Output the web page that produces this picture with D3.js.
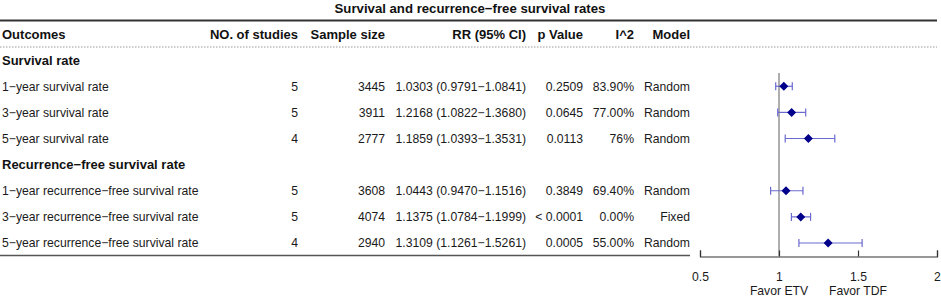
<!DOCTYPE html>
<html>
<head>
<meta charset="utf-8">
<script src="https://cdn.jsdelivr.net/npm/d3@7"></script>
<style>
    body { margin: 0; background: #fff; }
    svg { display: block; font-family: "Liberation Sans", Arial, sans-serif; }
</style>
</head>
<body>
<svg id="forest-viz"></svg>
<script>
// data
var outcomes = ["1\u2212year survival rate", "3\u2212year survival rate", "5\u2212year survival rate",
                "1\u2212year recurrence\u2212free survival rate", "3\u2212year recurrence\u2212free survival rate", "5\u2212year recurrence\u2212free survival rate"]
var groups = ["Survival rate", "Survival rate", "Survival rate",
              "Recurrence\u2212free survival rate", "Recurrence\u2212free survival rate", "Recurrence\u2212free survival rate"]
var nStudies = [5, 5, 4, 5, 5, 4]
var sampleSize = [3445, 3911, 2777, 3608, 4074, 2940]
var rrLabels = ["1.0303 (0.9791\u22121.0841)", "1.2168 (1.0822\u22121.3680)", "1.1859 (1.0393\u22121.3531)",
                "1.0443 (0.9470\u22121.1516)", "1.1375 (1.0784\u22121.1999)", "1.3109 (1.1261\u22121.5261)"]
var pValues = ["0.2509", "0.0645", "0.0113", "0.3849", "< 0.0001", "0.0005"]
var i2 = ["83.90%", "77.00%", "76%", "69.40%", "0.00%", "55.00%"]
var models = ["Random", "Random", "Random", "Random", "Fixed", "Random"]
// plotted marks as they appear in the figure (row 2 is drawn off its label)
var rrPlot = [1.0303, 1.080, 1.1859, 1.0443, 1.1375, 1.3109]
var lowerPlot = [0.9791, 0.992, 1.0393, 0.9470, 1.0784, 1.1261]
var upperPlot = [1.0841, 1.169, 1.3531, 1.1516, 1.1999, 1.5261]
var xTicks = [0.5, 1, 1.5, 2]
var favorLabels = ["Favor ETV", "Favor TDF"]
var favorAt = [1, 1.5]

var dataset = outcomes.map((d, i) => ({
    outcome: d, group: groups[i], n: nStudies[i], size: sampleSize[i], rrLabel: rrLabels[i],
    rr: rrPlot[i], lo: lowerPlot[i], hi: upperPlot[i], p: pValues[i], i2: i2[i], model: models[i]
}))

var dimensions = { width: 941, height: 298, tableRight: 690, plotLeft: 700, plotRight: 937 }

var svg = d3.select("#forest-viz")
            .attr("width", dimensions.width)
            .attr("height", dimensions.height)

// rows: header, group title, items...
var rowKeys = ["header"]
d3.groups(dataset, d => d.group).forEach(([g, items]) => {
    rowKeys.push("g:" + g)
    items.forEach(d => rowKeys.push("r:" + d.outcome))
})

var yScale = d3.scalePoint()
               .domain(rowKeys)
               .range([34, 243])

var xScale = d3.scaleLinear()
               .domain([0.5, 2])
               .range([dimensions.plotLeft, dimensions.plotRight])

var columns = [
    { title: "Outcomes", x: 2, anchor: "start", value: d => d.outcome },
    { title: "NO. of studies", x: 298, anchor: "end", value: d => d.n },
    { title: "Sample size", x: 385, anchor: "end", value: d => d.size },
    { title: "RR (95% CI)", x: 526, anchor: "end", value: d => d.rrLabel },
    { title: "p Value", x: 583, anchor: "end", value: d => d.p },
    { title: "I^2", x: 634, anchor: "end", value: d => d.i2 },
    { title: "Model", x: 690, anchor: "end", value: d => d.model }
]

svg.append("text")
   .attr("x", 470)
   .attr("y", 8)
   .attr("dy", "0.35em")
   .attr("text-anchor", "middle")
   .attr("font-size", 13.2)
   .attr("font-weight", "bold")
   .attr("fill", "#111")
   .text("Survival and recurrence\u2212free survival rates")

svg.append("line")
   .attr("x1", 0).attr("x2", dimensions.plotRight)
   .attr("y1", 20.5).attr("y2", 20.5)
   .attr("stroke", "#333").attr("stroke-width", 1.8)

svg.append("line")
   .attr("x1", 0).attr("x2", dimensions.plotRight)
   .attr("y1", 47).attr("y2", 47)
   .attr("stroke", "#999").attr("stroke-width", 1)
   .attr("stroke-dasharray", "1.5,1.5")

svg.append("line")
   .attr("x1", 0).attr("x2", dimensions.tableRight)
   .attr("y1", 255.5).attr("y2", 255.5)
   .attr("stroke", "#555").attr("stroke-width", 1.6)

// header
svg.append("g")
   .selectAll("text")
   .data(columns)
   .enter()
   .append("text")
   .attr("x", c => c.x)
   .attr("y", yScale("header"))
   .attr("dy", "0.35em")
   .attr("text-anchor", c => c.anchor)
   .attr("font-size", 13)
   .attr("font-weight", "bold")
   .attr("fill", "#111")
   .text(c => c.title)

// group titles
svg.append("g")
   .selectAll("text")
   .data(Array.from(new Set(groups)))
   .enter()
   .append("text")
   .attr("x", 2)
   .attr("y", g => yScale("g:" + g))
   .attr("dy", "0.35em")
   .attr("font-size", 13)
   .attr("font-weight", "bold")
   .attr("fill", "#111")
   .text(g => g)

// table cells
columns.forEach(c => {
    svg.append("g")
       .selectAll("text")
       .data(dataset)
       .enter()
       .append("text")
       .attr("x", c.x)
       .attr("y", d => yScale("r:" + d.outcome))
       .attr("dy", "0.35em")
       .attr("text-anchor", c.anchor)
       .attr("font-size", 12.2)
       .attr("fill", "#1a1a1a")
       .text(c.value)
})

// reference line at 1
svg.append("line")
   .attr("x1", xScale(1)).attr("x2", xScale(1))
   .attr("y1", 73).attr("y2", 256)
   .attr("stroke", "#9a9a9a").attr("stroke-width", 1.6)

// confidence intervals
var ci = svg.append("g")
            .selectAll("g")
            .data(dataset)
            .enter()
            .append("g")
            .attr("transform", d => `translate(0, ${yScale("r:" + d.outcome)})`)

ci.append("line")
  .attr("x1", d => xScale(d.lo)).attr("x2", d => xScale(d.hi))
  .attr("stroke", "#6a6ad0").attr("stroke-width", 1.2)
ci.append("line")
  .attr("x1", d => xScale(d.lo)).attr("x2", d => xScale(d.lo))
  .attr("y1", -4).attr("y2", 4)
  .attr("stroke", "#6a6ad0").attr("stroke-width", 1.2)
ci.append("line")
  .attr("x1", d => xScale(d.hi)).attr("x2", d => xScale(d.hi))
  .attr("y1", -4).attr("y2", 4)
  .attr("stroke", "#6a6ad0").attr("stroke-width", 1.2)
ci.append("path")
  .attr("d", d => { var x = xScale(d.rr); return `M${x},-4.5L${x+4.5},0L${x},4.5L${x-4.5},0Z` })
  .attr("fill", "#00008b")

// x axis, ticks pointing up
var xAxisGen = d3.axisBottom(xScale)
                 .tickValues(xTicks)
                 .tickSize(-6)
                 .tickPadding(16)
                 .tickFormat(d3.format("~g"))
var xAxis = svg.append("g")
               .attr("transform", "translate(0, 256.5)")
               .call(xAxisGen)
xAxis.select(".domain").attr("stroke", "#333").attr("stroke-width", 1.2)
xAxis.selectAll(".tick line").attr("stroke", "#333").attr("stroke-width", 1.2)
xAxis.selectAll(".tick text")
     .attr("font-size", 12.2)
     .attr("font-family", "Liberation Sans, Arial, sans-serif")
     .attr("fill", "#1a1a1a")

svg.append("g")
   .selectAll("text")
   .data(favorLabels)
   .enter()
   .append("text")
   .attr("x", (d, i) => xScale(favorAt[i]))
   .attr("y", 291)
   .attr("dy", "0.35em")
   .attr("text-anchor", "middle")
   .attr("font-size", 12.2)
   .attr("fill", "#1a1a1a")
   .text(d => d)
</script>
</body>
</html>
